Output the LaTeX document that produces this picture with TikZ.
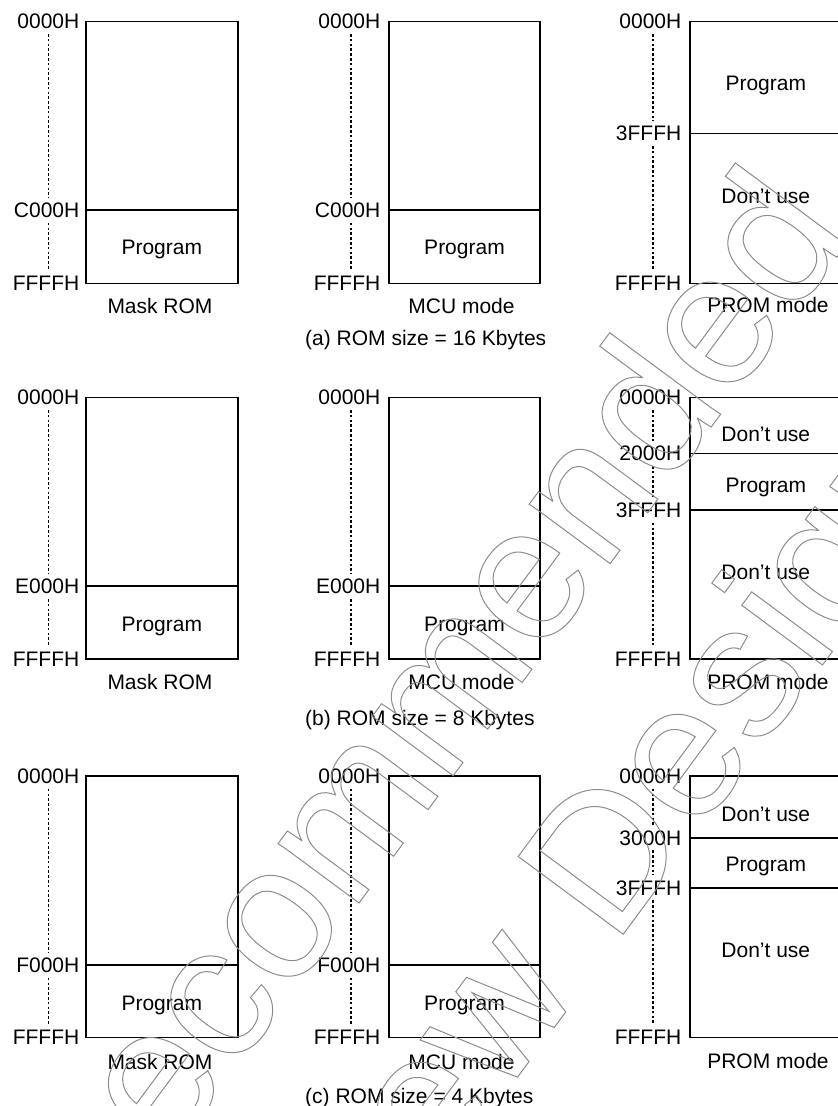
\documentclass[tikz,border=0pt]{standalone}
\usepackage{fontspec}
\setmainfont{Liberation Sans}
\newcommand\outltext[1]{\special{pdf:literal direct 1 Tr 1 w}#1\special{pdf:literal direct 0 Tr}}
\begin{document}
\begin{tikzpicture}[x=1pt,y=-1pt,
  box/.style={line width=1.6pt},
  dotline/.style={line width=1.6pt, dash pattern=on 2.6pt off 2.2pt},
  txt/.style={inner sep=0pt, text height=15pt, text depth=0pt, font=\fontsize{21}{24}\selectfont},
  addr/.style={txt, anchor=east, inner ysep=5pt},
  capt/.style={txt, anchor=west},
  wmark/.style={inner sep=0pt, rotate=53.5, anchor=base east, text=black!45, font=\fontsize{190}{228}\selectfont}
]
\useasboundingbox (0,0) rectangle (838,1106);
\coordinate (d1) at (48.3,0);
\coordinate (d2) at (351,0);
\coordinate (d3) at (652.7,0);

% ================= Row (a) =================
\draw[box] (86,21.3) rectangle (237.7,283.3);
\draw[box] (86,210) -- (237.7,210);
\node[addr] (a1t) at (79.5,21.3) {0000H};
\node[addr] (a1m) at (79.5,210) {C000H};
\node[addr] (a1b) at (79.5,283.3) {FFFFH};
\draw[dotline] (a1t.south -| d1) -- (a1m.north -| d1);
\draw[dotline] (a1m.south -| d1) -- (a1b.north -| d1);
\node[txt] (a1p) at (161.8,247) {Program};
\node[txt] (a1n) at (160,305.5) {Mask ROM};

\draw[box] (389,21.3) rectangle (540,283.3);
\draw[box] (389,210) -- (540,210);
\node[addr] (a2t) at (380.5,21.3) {0000H};
\node[addr] (a2m) at (380.5,210) {C000H};
\node[addr] (a2b) at (380.5,283.3) {FFFFH};
\draw[dotline] (a2t.south -| d2) -- (a2m.north -| d2);
\draw[dotline] (a2m.south -| d2) -- (a2b.north -| d2);
\node[txt] (a2p) at (464.5,247) {Program};
\node[txt] (a2n) at (461.5,305.5) {MCU mode};

\draw[box] (690,21.3) rectangle (841,283.3);
\draw[box] (690,133.3) -- (841,133.3);
\node[addr] (a3t) at (681.5,21.3) {0000H};
\node[addr] (a3m) at (681.5,133.3) {3FFFH};
\node[addr] (a3b) at (681.5,283.3) {FFFFH};
\draw[dotline] (a3t.south -| d3) -- (a3m.north -| d3);
\draw[dotline] (a3m.south -| d3) -- (a3b.north -| d3);
\node[txt] (a3p) at (765.8,83.3) {Program};
\node[txt] (a3d) at (765.8,195.7) {Don’t use};
\node[txt] (a3n) at (768,305.2) {PROM mode};

\node[capt] (acap) at (305,337.8) {(a) ROM size = 16 Kbytes};

% ================= Row (b) =================
\draw[box] (86,397.3) rectangle (237.7,658.7);
\draw[box] (86,586.2) -- (237.7,586.2);
\node[addr] (b1t) at (79.5,397.3) {0000H};
\node[addr] (b1m) at (79.5,586.2) {E000H};
\node[addr] (b1b) at (79.5,658.7) {FFFFH};
\draw[dotline] (b1t.south -| d1) -- (b1m.north -| d1);
\draw[dotline] (b1m.south -| d1) -- (b1b.north -| d1);
\node[txt] (b1p) at (161.8,623.7) {Program};
\node[txt] (b1n) at (160,681.5) {Mask ROM};

\draw[box] (389,397.3) rectangle (540,658.7);
\draw[box] (389,586.2) -- (540,586.2);
\node[addr] (b2t) at (380.5,397.3) {0000H};
\node[addr] (b2m) at (380.5,586.2) {E000H};
\node[addr] (b2b) at (380.5,658.7) {FFFFH};
\draw[dotline] (b2t.south -| d2) -- (b2m.north -| d2);
\draw[dotline] (b2m.south -| d2) -- (b2b.north -| d2);
\node[txt] (b2p) at (464.5,623.7) {Program};
\node[txt] (b2n) at (461.5,681.5) {MCU mode};

\draw[box] (690,397.3) rectangle (841,658.7);
\draw[box] (690,453.3) -- (841,453.3);
\draw[box] (690,510) -- (841,510);
\node[addr] (b3t) at (681.5,397.3) {0000H};
\node[addr] (b3m) at (681.5,453.3) {2000H};
\node[addr] (b3k) at (681.5,510) {3FFFH};
\node[addr] (b3b) at (681.5,658.7) {FFFFH};
\draw[dotline] (b3t.south -| d3) -- (b3m.north -| d3);
\draw[dotline] (b3m.south -| d3) -- (b3k.north -| d3);
\draw[dotline] (b3k.south -| d3) -- (b3b.north -| d3);
\node[txt] (b3d1) at (765.8,433.8) {Don’t use};
\node[txt] (b3p) at (765.8,484.5) {Program};
\node[txt] (b3d2) at (765.8,572.2) {Don’t use};
\node[txt] (b3n) at (768,682) {PROM mode};

\node[capt] (bcap) at (305,717.8) {(b) ROM size = 8 Kbytes};

% ================= Row (c) =================
\draw[box] (86,776) rectangle (237.7,1037.3);
\draw[box] (86,965) -- (237.7,965);
\node[addr] (c1t) at (79.5,776) {0000H};
\node[addr] (c1m) at (79.5,965) {F000H};
\node[addr] (c1b) at (79.5,1037.3) {FFFFH};
\draw[dotline] (c1t.south -| d1) -- (c1m.north -| d1);
\draw[dotline] (c1m.south -| d1) -- (c1b.north -| d1);
\node[txt] (c1p) at (161.8,1003) {Program};
\node[txt] (c1n) at (160,1061.5) {Mask ROM};

\draw[box] (389,776) rectangle (540,1037.3);
\draw[box] (389,965) -- (540,965);
\node[addr] (c2t) at (380.5,776) {0000H};
\node[addr] (c2m) at (380.5,965) {F000H};
\node[addr] (c2b) at (380.5,1037.3) {FFFFH};
\draw[dotline] (c2t.south -| d2) -- (c2m.north -| d2);
\draw[dotline] (c2m.south -| d2) -- (c2b.north -| d2);
\node[txt] (c2p) at (464.5,1003) {Program};
\node[txt] (c2n) at (461.5,1061.5) {MCU mode};

\draw[box] (690,776) rectangle (841,1037.3);
\draw[box] (690,837.7) -- (841,837.7);
\draw[box] (690,887.7) -- (841,887.7);
\node[addr] (c3t) at (681.5,776) {0000H};
\node[addr] (c3m) at (681.5,837.7) {3000H};
\node[addr] (c3k) at (681.5,887.7) {3FFFH};
\node[addr] (c3b) at (681.5,1037.3) {FFFFH};
\draw[dotline] (c3t.south -| d3) -- (c3m.north -| d3);
\draw[dotline] (c3m.south -| d3) -- (c3k.north -| d3);
\draw[dotline] (c3k.south -| d3) -- (c3b.north -| d3);
\node[txt] (c3d1) at (765.8,813.8) {Don’t use};
\node[txt] (c3p) at (765.8,863.7) {Program};
\node[txt] (c3d2) at (765.8,950.3) {Don’t use};
\node[txt] (c3n) at (768,1061.2) {PROM mode};

\node[capt] (ccap) at (305,1095.8) {(c) ROM size = 4 Kbytes};

% ================= watermark =================
\node[wmark] (wm1) at (854,234) {\outltext{Not Recommended}};
\node[wmark] (wm2) at (966,471) {\outltext{for New Design}};
\end{tikzpicture}
\end{document}
